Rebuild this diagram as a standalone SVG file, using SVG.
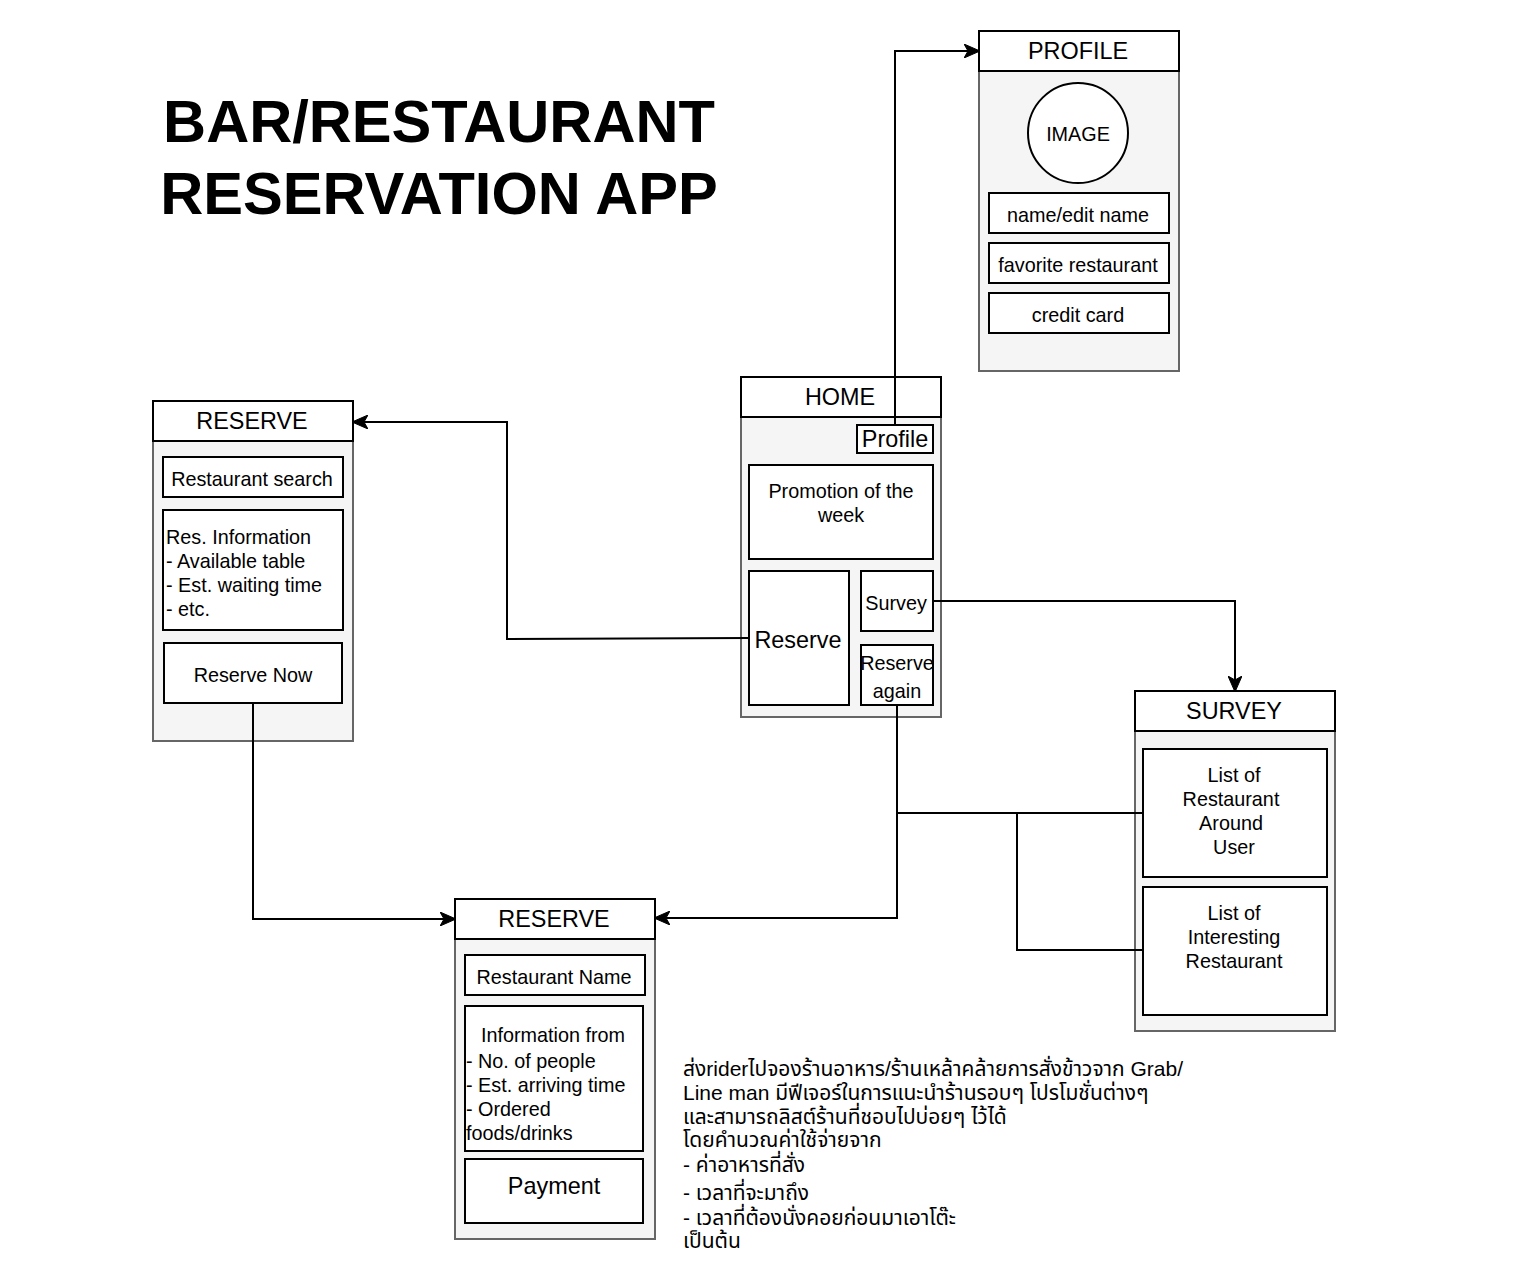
<svg xmlns="http://www.w3.org/2000/svg" width="1530" height="1266" viewBox="0 0 1530 1266">
<defs>
<style>
.bg{fill:#ffffff}
.body{fill:#f5f5f5;stroke:#666666;stroke-width:2}
.hdr{fill:#ffffff;stroke:#000000;stroke-width:2}
.box{fill:#ffffff;stroke:#000000;stroke-width:2}
.t{font-family:"Liberation Sans",Arial,Helvetica,sans-serif;fill:#000000}
.s{font-size:19.8px}
.m{font-size:23.4px}
.c{text-anchor:middle}
.title{font-size:59.6px;font-weight:bold;text-anchor:middle}
.th{font-family:"Liberation Sans","Noto Sans Thai","Noto Sans","DejaVu Sans",sans-serif;font-size:21px;fill:#000000}
.edge{fill:none;stroke:#000000;stroke-width:2}
</style>
<marker id="arr" viewBox="0 0 16 14" refX="15" refY="7" markerWidth="16" markerHeight="14" markerUnits="userSpaceOnUse" orient="auto">
<path d="M0,0 L16,7 L0,14 L4,7 Z" fill="#000000" stroke="#000000" stroke-width="1"/>
</marker>
</defs>
<rect class="bg" x="0" y="0" width="1530" height="1266"/>

<g id="title">
<text class="t title" x="439" y="142">BAR/RESTAURANT</text>
<text class="t title" x="439" y="214">RESERVATION APP</text>
</g>

<g id="profile">
<rect class="body" x="979" y="71" width="200" height="300"/>
<rect class="hdr" x="979" y="31" width="200" height="40"/>
<text class="t m c" x="1078" y="59">PROFILE</text>
<circle cx="1078" cy="133" r="50" fill="#ffffff" stroke="#000000" stroke-width="2"/>
<text class="t s c" x="1078" y="141">IMAGE</text>
<rect class="box" x="989" y="193" width="180" height="40"/>
<text class="t s c" x="1078" y="222">name/edit name</text>
<rect class="box" x="989" y="243" width="180" height="40"/>
<text class="t s c" x="1078" y="272">favorite restaurant</text>
<rect class="box" x="989" y="293" width="180" height="40"/>
<text class="t s c" x="1078" y="322">credit card</text>
</g>

<g id="home">
<rect class="body" x="741" y="417" width="200" height="300"/>
<rect class="hdr" x="741" y="377" width="200" height="40"/>
<text class="t m c" x="840" y="405">HOME</text>
<rect class="box" x="857" y="425" width="76" height="28"/>
<text class="t m c" x="895" y="447">Profile</text>
<rect class="box" x="749" y="465" width="184" height="94"/>
<text class="t s c" x="841" y="498">Promotion of the</text>
<text class="t s c" x="841" y="522">week</text>
<rect class="box" x="749" y="571" width="100" height="134"/>
<text class="t m c" x="798" y="648">Reserve</text>
<rect class="box" x="861" y="571" width="72" height="60"/>
<text class="t s c" x="896" y="610">Survey</text>
<rect class="box" x="861" y="645" width="72" height="60"/>
<text class="t s c" x="897" y="670">Reserve</text>
<text class="t s c" x="897" y="698">again</text>
</g>

<g id="reserve-search">
<rect class="body" x="153" y="441" width="200" height="300"/>
<rect class="hdr" x="153" y="401" width="200" height="40"/>
<text class="t m c" x="252" y="429">RESERVE</text>
<rect class="box" x="163" y="457" width="180" height="40"/>
<text class="t s c" x="252" y="486">Restaurant search</text>
<rect class="box" x="163" y="510" width="180" height="120"/>
<text class="t s" x="166" y="544">Res. Information</text>
<text class="t s" x="166" y="568">- Available table</text>
<text class="t s" x="166" y="592">- Est. waiting time</text>
<text class="t s" x="166" y="616">- etc.</text>
<rect class="box" x="164" y="643" width="178" height="60"/>
<text class="t s c" x="253" y="682">Reserve Now</text>
</g>

<g id="reserve-confirm">
<rect class="body" x="455" y="939" width="200" height="300"/>
<rect class="hdr" x="455" y="899" width="200" height="40"/>
<text class="t m c" x="554" y="927">RESERVE</text>
<rect class="box" x="465" y="955" width="180" height="40"/>
<text class="t s c" x="554" y="984">Restaurant Name</text>
<rect class="box" x="465" y="1006" width="178" height="145"/>
<text class="t s" x="481" y="1042">Information from</text>
<text class="t s" x="466" y="1068">- No. of people</text>
<text class="t s" x="466" y="1092">- Est. arriving time</text>
<text class="t s" x="466" y="1116">- Ordered</text>
<text class="t s" x="466" y="1140">foods/drinks</text>
<rect class="box" x="465" y="1159" width="178" height="64"/>
<text class="t m c" x="554" y="1194">Payment</text>
</g>

<g id="survey">
<rect class="body" x="1135" y="731" width="200" height="300"/>
<rect class="hdr" x="1135" y="691" width="200" height="40"/>
<text class="t m c" x="1234" y="719">SURVEY</text>
<rect class="box" x="1143" y="749" width="184" height="128"/>
<text class="t s c" x="1234" y="782">List of</text>
<text class="t s c" x="1231" y="806">Restaurant</text>
<text class="t s c" x="1231" y="830">Around</text>
<text class="t s c" x="1234" y="854">User</text>
<rect class="box" x="1143" y="887" width="184" height="128"/>
<text class="t s c" x="1234" y="920">List of</text>
<text class="t s c" x="1234" y="944">Interesting</text>
<text class="t s c" x="1234" y="968">Restaurant</text>
</g>

<g id="note">
<text class="th" x="683" y="1076">ส่งriderไปจองร้านอาหาร/ร้านเหล้าคล้ายการสั่งข้าวจาก Grab/</text>
<text class="th" x="683" y="1100">Line man มีฟีเจอร์ในการแนะนำร้านรอบๆ โปรโมชั่นต่างๆ</text>
<text class="th" x="683" y="1124">และสามารถลิสต์ร้านที่ชอบไปบ่อยๆ ไว้ได้</text>
<text class="th" x="683" y="1147">โดยคำนวณค่าใช้จ่ายจาก</text>
<text class="th" x="683" y="1172">- ค่าอาหารที่สั่ง</text>
<text class="th" x="683" y="1200">- เวลาที่จะมาถึง</text>
<text class="th" x="683" y="1225">- เวลาที่ต้องนั่งคอยก่อนมาเอาโต๊ะ</text>
<text class="th" x="683" y="1248">เป็นต้น</text>
</g>

<g id="connectors">
<polyline class="edge" points="895,425 895,51 979,51" marker-end="url(#arr)"/>
<polyline class="edge" points="749,638 507,639 507,422 353,422" marker-end="url(#arr)"/>
<polyline class="edge" points="933,601 1235,601 1235,691" marker-end="url(#arr)"/>
<polyline class="edge" points="253,703 253,919 455,919" marker-end="url(#arr)"/>
<polyline class="edge" points="897,705 897,918 655,918" marker-end="url(#arr)"/>
<polyline class="edge" points="1143,813 897,813"/>
<polyline class="edge" points="1143,950 1017,950 1017,813"/>
</g>
</svg>
